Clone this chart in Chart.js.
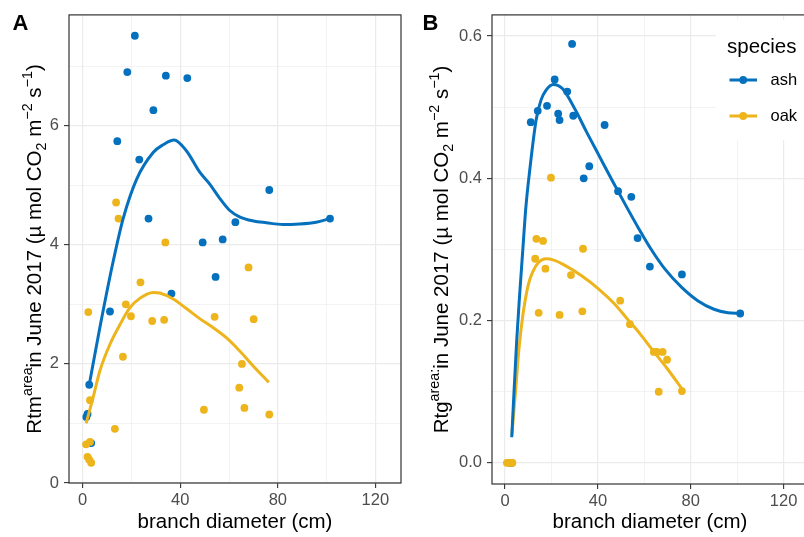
<!DOCTYPE html>
<html>
<head>
<meta charset="utf-8">
<script src="https://cdn.jsdelivr.net/npm/chart.js@4.4.0/dist/chart.umd.min.js"></script>
<style>
  html, body { margin: 0; padding: 0; background: #fff; overflow: hidden; width: 804px; height: 537px; }
  #wrapA { position: absolute; left: 0; top: 0; }
  #wrapB { position: absolute; left: 402px; top: 0; }
</style>
</head>
<body>
<div id="wrapA"><canvas id="chartA" width="405" height="537"></canvas></div>
<div id="wrapB"><canvas id="chartB" width="410" height="537"></canvas></div>
<script>
const FONT = "'Liberation Sans', Arial, Helvetica, sans-serif";
const ASH = '#0570BD';
const OAK = '#EDB41C';

// panel A : Rtm_area vs branch diameter
const ashDiamA = [21.4, 18.3, 34.1, 42.9, 29.0, 14.2, 23.2, 76.5, 101.4, 27.0, 62.6, 49.2, 57.4, 54.5, 36.4, 11.2, 2.7, 2.0, 1.5, 3.5];
const ashRtm = [7.51, 6.90, 6.84, 6.80, 6.26, 5.74, 5.43, 4.92, 4.44, 4.44, 4.38, 4.04, 4.09, 3.46, 3.18, 2.88, 1.65, 1.16, 1.11, 0.67];
const oakDiamA = [13.7, 14.7, 33.9, 68.0, 23.7, 17.7, 19.8, 2.3, 28.5, 33.4, 54.1, 70.1, 16.5, 65.3, 64.2, 3.0, 49.7, 66.3, 76.5, 13.2, 1.4, 3.0, 2.0, 2.7, 3.5];
const oakRtm = [4.71, 4.44, 4.04, 3.62, 3.37, 3.00, 2.80, 2.87, 2.72, 2.74, 2.79, 2.75, 2.12, 2.00, 1.60, 1.39, 1.23, 1.26, 1.15, 0.91, 0.65, 0.69, 0.44, 0.39, 0.34];

// smoothed fits, panel A
const ashFitDiamA = [2.7, 7.0, 12.5, 16.6, 22.1, 28.9, 33.0, 37.5, 42.5, 48.0, 52.1, 56.2, 60.2, 64.3, 70.0, 75.3, 82.0, 88.9, 95.7, 101.4];
const ashFitRtm = [1.65, 2.60, 3.72, 4.44, 5.10, 5.55, 5.68, 5.76, 5.58, 5.22, 5.02, 4.78, 4.58, 4.47, 4.40, 4.37, 4.34, 4.35, 4.38, 4.44];
const oakFitDiamA = [1.4, 4.3, 7.1, 11.2, 15.3, 19.3, 23.4, 28.9, 31.6, 37.1, 42.5, 48.0, 53.4, 58.9, 64.3, 69.8, 76.3];
const oakFitRtm = [1.00, 1.44, 1.89, 2.33, 2.66, 2.94, 3.10, 3.20, 3.19, 3.09, 2.93, 2.76, 2.61, 2.44, 2.22, 1.97, 1.69];

// panel B : Rtg_area vs branch diameter
const ashDiamB = [28.9, 21.4, 26.8, 14.1, 18.1, 11.1, 22.9, 23.5, 29.4, 42.9, 36.3, 33.9, 48.7, 54.4, 57.1, 62.4, 76.2, 101.3, 2.2, 2.9];
const ashRtg = [0.589, 0.539, 0.522, 0.495, 0.502, 0.479, 0.491, 0.482, 0.488, 0.475, 0.417, 0.400, 0.382, 0.374, 0.316, 0.276, 0.265, 0.210, 0.0, 0.0];
const oakDiamB = [19.8, 13.5, 16.4, 33.6, 13.0, 17.4, 28.4, 49.6, 14.5, 23.5, 33.3, 53.8, 64.1, 65.4, 67.9, 69.8, 66.2, 76.2, 0.8, 1.6, 2.4, 3.2];
const oakRtg = [0.401, 0.315, 0.312, 0.301, 0.287, 0.273, 0.264, 0.228, 0.211, 0.208, 0.213, 0.195, 0.156, 0.156, 0.156, 0.145, 0.100, 0.101, 0.0, 0.0, 0.0, 0.0];

// smoothed fits, panel B
const ashFitDiamB = [2.9, 5.0, 6.3, 7.7, 9.0, 10.6, 13.4, 15.5, 17.7, 20.8, 24.8, 30.5, 35.0, 40.5, 46.0, 52.0, 57.5, 63.0, 69.0, 76.0, 83.0, 90.0, 96.0, 101.3];
const ashFitRtg = [0.036, 0.17, 0.236, 0.301, 0.36, 0.41, 0.482, 0.51, 0.524, 0.532, 0.526, 0.495, 0.466, 0.432, 0.398, 0.362, 0.330, 0.300, 0.272, 0.247, 0.228, 0.216, 0.211, 0.210];
const oakFitDiamB = [3.0, 4.9, 6.0, 7.7, 10.0, 12.0, 14.5, 17.7, 21.0, 26.2, 33.0, 40.5, 47.0, 53.3, 58.0, 63.2, 70.0, 76.2];
const oakFitRtg = [0.04, 0.115, 0.16, 0.208, 0.25, 0.269, 0.282, 0.287, 0.285, 0.277, 0.263, 0.244, 0.224, 0.200, 0.182, 0.160, 0.132, 0.104];

// axes
const xGrid = [0, 20, 40, 60, 80, 100, 120];
const xTicks = [0, 40, 80, 120];
const yGridA = [0, 1, 2, 3, 4, 5, 6, 7];
const yTicksA = [0, 2, 4, 6];
const yGridB = [0, 0.1, 0.2, 0.3, 0.4, 0.5, 0.6];
const yTicksB = [0, 0.2, 0.4, 0.6];
const yLabelsB = ['0.0', '0.2', '0.4', '0.6'];
const species = ['ash', 'oak'];

const titleA = [{ t: 'Rtm' }, { t: 'area', s: 'sup' }, { t: 'in June 2017 (\u00b5 mol CO' }, { t: '2', s: 'sub' },
  { t: ' m' }, { t: '\u22122', s: 'sup' }, { t: ' s' }, { t: '\u22121', s: 'sup' }, { t: ')' }];
const titleB = [{ t: 'Rtg' }, { t: 'area:', s: 'sup' }, { t: 'in June 2017 (\u00b5 mol CO' }, { t: '2', s: 'sub' },
  { t: ' m' }, { t: '\u22122', s: 'sup' }, { t: ' s' }, { t: '\u22121', s: 'sup' }, { t: ')' }];

const pts = (xs, ys) => xs.map((x, i) => ({ x: x, y: ys[i] }));
const near = (arr, v) => arr.findIndex((a) => Math.abs(a - v) < 1e-6);

function pointSet(label, xs, ys, color, order) {
  return {
    label: label, data: pts(xs, ys), order: order,
    backgroundColor: color, borderColor: color,
    pointRadius: 3.9, pointBorderWidth: 0, showLine: false,
  };
}
function fitSet(label, xs, ys, color, order) {
  return {
    label: label, data: pts(xs, ys), order: order,
    borderColor: color, borderWidth: 3, pointRadius: 0,
    showLine: true, cubicInterpolationMode: 'monotone', fill: false,
  };
}

function gridOpts(majors) {
  return {
    color: '#ebebeb',
    lineWidth: (c) => (near(majors, c.tick.value) >= 0 ? 1.2 : 0.6),
    tickColor: (c) => (near(majors, c.tick.value) >= 0 ? '#333333' : 'rgba(0,0,0,0)'),
    tickWidth: 1.1,
    tickLength: 5,
  };
}

function xScale(height) {
  return {
    type: 'linear', min: -5.6, max: 130.5,
    afterBuildTicks: (s) => { s.ticks = xGrid.map((v) => ({ value: v })); },
    afterFit: (s) => { s.height = height; },
    grid: gridOpts(xTicks),
    border: { display: false },
    ticks: {
      callback: (v) => (near(xTicks, v) >= 0 ? String(v) : ''),
      color: '#4d4d4d', font: { family: FONT, size: 16.5 }, padding: 3,
      maxRotation: 0, autoSkip: false,
    },
    title: {
      display: true, text: 'branch diameter (cm)', color: '#000',
      font: { family: FONT, size: 20.5 }, padding: { top: 0, bottom: 2 },
    },
  };
}

function drawRichY(ctx, runs, baseX, cy, size) {
  const small = size * 0.7;
  ctx.save();
  let total = 0;
  const widths = runs.map((r) => {
    ctx.font = (r.s ? small : size) + 'px ' + FONT;
    const w = ctx.measureText(r.t).width;
    total += w;
    return w;
  });
  ctx.translate(baseX, cy);
  ctx.rotate(-Math.PI / 2);
  ctx.fillStyle = '#000';
  ctx.textAlign = 'left';
  ctx.textBaseline = 'alphabetic';
  let x = -total / 2;
  runs.forEach((r, i) => {
    ctx.font = (r.s ? small : size) + 'px ' + FONT;
    const dy = r.s === 'sup' ? -size * 0.42 : r.s === 'sub' ? size * 0.24 : 0;
    ctx.fillText(r.t, x, dy);
    x += widths[i];
  });
  ctx.restore();
}

function frame(chart) {
  const a = chart.chartArea;
  const ctx = chart.ctx;
  ctx.save();
  ctx.strokeStyle = '#333333';
  ctx.lineWidth = 1.2;
  ctx.strokeRect(a.left, a.top, a.right - a.left, a.bottom - a.top);
  ctx.restore();
}

function panelLetter(ctx, text, x, y) {
  ctx.save();
  ctx.font = 'bold 22px ' + FONT;
  ctx.fillStyle = '#000';
  ctx.textBaseline = 'alphabetic';
  ctx.fillText(text, x, y);
  ctx.restore();
}

const decorA = {
  id: 'decorA',
  afterDraw(chart) {
    frame(chart);
    const a = chart.chartArea;
    drawRichY(chart.ctx, titleA, 41, (a.top + a.bottom) / 2, 20.5);
    panelLetter(chart.ctx, 'A', 12.5, 30);
  },
};

const decorB = {
  id: 'decorB',
  afterDraw(chart) {
    const ctx = chart.ctx;
    const a = chart.chartArea;
    // legend box
    ctx.save();
    ctx.fillStyle = '#fff';
    ctx.fillRect(314, 20, 100, 120);
    ctx.fillStyle = '#000';
    ctx.font = '20.5px ' + FONT;
    ctx.textBaseline = 'alphabetic';
    ctx.fillText('species', 325, 52.5);
    const keyCols = [ASH, OAK];
    const keyY = [80, 116];
    species.forEach((sp, i) => {
      ctx.strokeStyle = keyCols[i];
      ctx.lineWidth = 3;
      ctx.beginPath();
      ctx.moveTo(327.5, keyY[i]);
      ctx.lineTo(355, keyY[i]);
      ctx.stroke();
      ctx.fillStyle = keyCols[i];
      ctx.beginPath();
      ctx.arc(341.2, keyY[i], 3.9, 0, Math.PI * 2);
      ctx.fill();
      ctx.fillStyle = '#000';
      ctx.font = '16.5px ' + FONT;
      ctx.textBaseline = 'middle';
      ctx.fillText(sp, 368.5, keyY[i]);
    });
    ctx.restore();
    frame(chart);
    drawRichY(ctx, titleB, 46, (a.top + a.bottom) / 2, 20.5);
    panelLetter(ctx, 'B', 20.5, 29.5);
  },
};

const common = {
  animation: false,
  responsive: false,
  events: [],
  plugins: { legend: { display: false }, tooltip: { enabled: false } },
};

new Chart(document.getElementById('chartA'), {
  type: 'scatter',
  data: {
    datasets: [
      fitSet('ash fit', ashFitDiamA, ashFitRtm, ASH, 0),
      fitSet('oak fit', oakFitDiamA, oakFitRtm, OAK, 1),
      pointSet('oak', oakDiamA, oakRtm, OAK, 2),
      pointSet('ash', ashDiamA, ashRtm, ASH, 3),
    ],
  },
  options: Object.assign({}, common, {
    layout: { padding: { left: 0, top: 11, right: 3, bottom: 0 } },
    scales: {
      x: xScale(54),
      y: {
        type: 'linear', min: 0, max: 7.86,
        afterBuildTicks: (s) => { s.ticks = yGridA.map((v) => ({ value: v })); },
        afterFit: (s) => { s.width = 69; },
        grid: gridOpts(yTicksA),
        border: { display: false },
        ticks: {
          callback: (v) => (near(yTicksA, v) >= 0 ? String(v) : ''),
          color: '#4d4d4d', font: { family: FONT, size: 16.5 }, padding: 5,
        },
      },
    },
  }),
  plugins: [decorA],
});

new Chart(document.getElementById('chartB'), {
  type: 'scatter',
  data: {
    datasets: [
      fitSet('ash fit', ashFitDiamB, ashFitRtg, ASH, 0),
      fitSet('oak fit', oakFitDiamB, oakFitRtg, OAK, 1),
      pointSet('oak', oakDiamB, oakRtg, OAK, 2),
      pointSet('ash', ashDiamB, ashRtg, ASH, 3),
    ],
  },
  options: Object.assign({}, common, {
    layout: { padding: { left: 0, top: 11, right: 1.5, bottom: 0 } },
    scales: {
      x: xScale(53),
      y: {
        type: 'linear', min: -0.0297, max: 0.6298,
        afterBuildTicks: (s) => { s.ticks = yGridB.map((v) => ({ value: v })); },
        afterFit: (s) => { s.width = 90; },
        grid: gridOpts(yTicksB),
        border: { display: false },
        ticks: {
          callback: (v) => { const i = near(yTicksB, v); return i >= 0 ? yLabelsB[i] : ''; },
          color: '#4d4d4d', font: { family: FONT, size: 16.5 }, padding: 5,
        },
      },
    },
  }),
  plugins: [decorB],
});
</script>
</body>
</html>
